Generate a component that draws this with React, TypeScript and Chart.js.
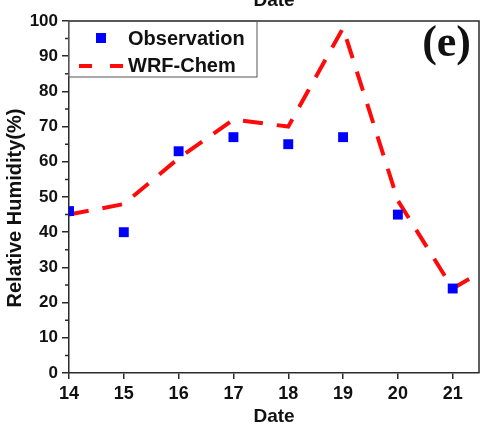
import React, { useEffect, useRef } from 'react';
import { Chart, registerables } from 'chart.js';

Chart.register(...registerables);

// ---- data ----
const dates = [14, 15, 16, 17, 18, 19, 20, 21];
const observation = [46, 40, 63, 67, 65, 67, 45, 24];
const wrfDates = [14, 15, 16, 17, 18, 19, 20, 21, 22];
const wrfChem = [45, 48, 61, 72, 70, 98, 49, 24, 33];
const seriesNames = ['Observation', 'WRF-Chem'];
const xTitle = 'Date';
const yTitle = 'Relative Humidity(%)';
const panelLabel = '(e)';
const xMin = 14;
const xMax = 21.48;
const yMin = 0;
const yMax = 100;
const yStep = 10;

const SANS = '"Liberation Sans", Arial, Helvetica, sans-serif';
const SERIF = '"Liberation Serif", "Times New Roman", serif';
const AXIS = '#2a2a2a';
const RED = '#ff0a0a';
const BLUE = '#0000ff';

const decorPlugin = {
  id: 'decor',
  afterDraw(chart: any) {
    const { ctx, chartArea: a, scales } = chart;
    const ys = scales.y;
    ctx.save();
    // top and right frame
    ctx.strokeStyle = AXIS;
    ctx.lineWidth = 1.5;
    ctx.beginPath();
    ctx.moveTo(a.left, a.top);
    ctx.lineTo(a.right, a.top);
    ctx.lineTo(a.right, a.bottom);
    ctx.stroke();
    // minor y ticks
    ctx.beginPath();
    for (let v = yMin + yStep / 2; v < yMax; v += yStep) {
      const py = ys.getPixelForValue(v);
      ctx.moveTo(a.left - 4, py);
      ctx.lineTo(a.left, py);
    }
    ctx.stroke();

    // legend box
    ctx.strokeStyle = '#555';
    ctx.lineWidth = 1;
    ctx.strokeRect(a.left - 0.5, a.top, 188.5, 56);
    // observation marker
    ctx.fillStyle = BLUE;
    ctx.fillRect(a.left + 27, a.top + 12, 10, 10);
    // wrf line sample
    ctx.strokeStyle = RED;
    ctx.lineWidth = 4;
    ctx.setLineDash([13, 18]);
    ctx.beginPath();
    ctx.moveTo(a.left + 10, a.top + 45);
    ctx.lineTo(a.left + 54, a.top + 45);
    ctx.stroke();
    ctx.setLineDash([]);
    ctx.fillStyle = '#111';
    ctx.font = 'bold 20px ' + SANS;
    ctx.textAlign = 'left';
    ctx.textBaseline = 'middle';
    ctx.fillText(seriesNames[0], a.left + 59, a.top + 18);
    ctx.fillText(seriesNames[1], a.left + 59, a.top + 45);

    // panel label
    ctx.font = 'bold 44px ' + SERIF;
    ctx.textAlign = 'right';
    ctx.textBaseline = 'alphabetic';
    ctx.fillText(panelLabel, a.right - 8, a.top + 35);

    // axis titles
    ctx.font = 'bold 19px ' + SANS;
    ctx.textAlign = 'center';
    ctx.textBaseline = 'alphabetic';
    const cx = (a.left + a.right) / 2;
    ctx.fillText(xTitle, cx, chart.height - 2);
    ctx.fillText(xTitle, cx, 6);
    ctx.save();
    ctx.translate(15, 208);
    ctx.rotate(-Math.PI / 2);
    ctx.textBaseline = 'middle';
    ctx.font = 'bold 20px ' + SANS;
    ctx.fillText(yTitle, 0, 0);
    ctx.restore();
    ctx.restore();
  },
};

export default function App() {
  const ref = useRef<HTMLCanvasElement | null>(null);
  useEffect(() => {
    if (!ref.current) return;
    const chart = new Chart(ref.current, {
      type: 'scatter',
      data: {
        datasets: [
          {
            label: seriesNames[0],
            data: dates.map((d, i) => ({ x: d, y: observation[i] })),
            backgroundColor: BLUE,
            borderColor: BLUE,
            pointStyle: 'rect',
            pointRadius: 7,
            borderWidth: 0,
            showLine: false,
          },
          {
            label: seriesNames[1],
            data: wrfDates.map((d, i) => ({ x: d, y: wrfChem[i] })),
            borderColor: RED,
            backgroundColor: RED,
            borderWidth: 4,
            borderDash: [20, 14],
            pointRadius: 0,
            showLine: true,
            tension: 0,
          },
        ],
      },
      options: {
        responsive: false,
        animation: false,
        devicePixelRatio: 1,
        layout: { autoPadding: false, padding: { top: 21, right: 1, left: 0, bottom: 0 } },
        plugins: { legend: { display: false }, tooltip: { enabled: false } },
        scales: {
          x: {
            type: 'linear',
            min: xMin,
            max: xMax,
            afterFit: (s: any) => {
              s.height = 51;
              s.paddingLeft = 0;
              s.paddingRight = 0;
            },
            ticks: {
              stepSize: 1,
              includeBounds: false,
              color: '#111',
              font: { family: SANS, size: 18, weight: 'bold' },
              padding: 4,
              maxRotation: 0,
            },
            grid: { drawOnChartArea: false, drawTicks: true, tickLength: 6, color: AXIS, lineWidth: 1.5 },
            border: { display: true, color: AXIS, width: 1.5 },
          },
          y: {
            type: 'linear',
            min: yMin,
            max: yMax,
            afterFit: (s: any) => {
              s.width = 69;
              s.paddingTop = 0;
              s.paddingBottom = 0;
            },
            ticks: {
              stepSize: yStep,
              color: '#111',
              font: { family: SANS, size: 17, weight: 'bold' },
              padding: 4,
            },
            grid: { drawOnChartArea: false, drawTicks: true, tickLength: 7, color: AXIS, lineWidth: 1.5 },
            border: { display: true, color: AXIS, width: 1.5 },
          },
        },
      },
      plugins: [decorPlugin],
    } as any);
    return () => chart.destroy();
  }, []);
  return (
    <div style={{ position: 'absolute', left: 0, top: 0, width: 480, height: 424, background: '#fff' }}>
      <canvas ref={ref} width={480} height={424} style={{ display: 'block', width: 480, height: 424 }} />
    </div>
  );
}
